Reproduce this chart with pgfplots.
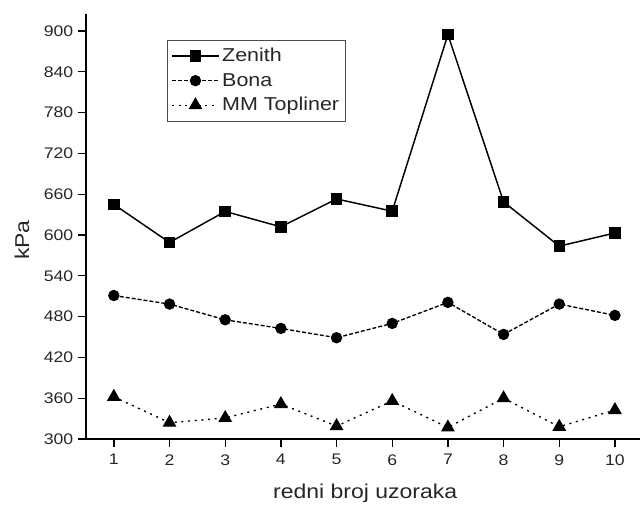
\documentclass[border=0pt]{standalone}
\usepackage{fontspec}
\setmainfont{Liberation Sans}[FakeStretch=1.15]
\usepackage{pgfplots}
\pgfplotsset{compat=1.18}
\begin{document}
\begin{tikzpicture}
\begin{axis}[
  scale only axis, width=415.5pt, height=318.75pt,
  xmin=0.5, xmax=10.45, ymin=300, ymax=925,
  axis x line*=bottom, axis y line*=left,
  axis line style={line width=1.3pt,-},
  xtick={1,...,10}, ytick={300,360,...,900},
  tick align=outside, major tick length=6pt, tick style={line width=1pt,black},
  /pgf/number format/assume math mode=true,
  ticklabel style={font=\fontsize{11.5}{13}\selectfont, text=black!85},
  xticklabel style={yshift=-2pt},
  xlabel={redni broj uzoraka}, ylabel={kPa},
  label style={font=\fontsize{15}{17}\selectfont, text=black!85},
  xlabel style={at={(axis description cs:0.504,0)}, anchor=center, yshift=-41pt},
  ylabel style={at={(axis description cs:-0.1155,0.468)}, anchor=center},
  legend style={at={(axis description cs:0.1462,0.9388)}, anchor=north west,
    font=\fontsize{14}{16}\selectfont, draw=black!70, line width=0.6pt,
    row sep=3pt, inner xsep=3pt, inner ysep=4pt, text=black!85},
  legend cell align=left,
  legend image code/.code={\draw[mark repeat=2,mark phase=2] plot coordinates {(0pt,0pt) (17.5pt,0pt) (35pt,0pt)};},
  every axis plot/.append style={black},
]
\coordinate (O) at (rel axis cs:0,0);
\addplot[line width=1.1pt, mark=square*, mark size=3.75pt, mark options={solid}] coordinates {
(1,645) (2,589) (3,634.6) (4,612) (5,653) (6,635) (7,894.7) (8,648.7) (9,583.6) (10,603)};
\addlegendentry{Zenith}
\addplot[line width=1pt, dash pattern=on 3pt off 1.5pt, mark=*, mark size=3.75pt, mark options={solid}] coordinates {
(1,511) (2,498.4) (3,475.3) (4,462.6) (5,448.9) (6,470) (7,500.9) (8,453.8) (9,498.4) (10,481.8)};
\addlegendentry{Bona}
\addplot[line width=1pt, dash pattern=on 1.5pt off 3.5pt, mark=triangle*, mark size=5pt, mark options={solid}] coordinates {
(1,362) (2,324) (3,331) (4,351.4) (5,319) (6,356) (7,317) (8,360) (9,318) (10,342.6)};
\addlegendentry{MM Topliner}
\end{axis}
\pgfresetboundingbox
\path ([xshift=-64.5pt,yshift=-50.25pt]O) rectangle ++(480pt,379.5pt);
\end{tikzpicture}
\end{document}
